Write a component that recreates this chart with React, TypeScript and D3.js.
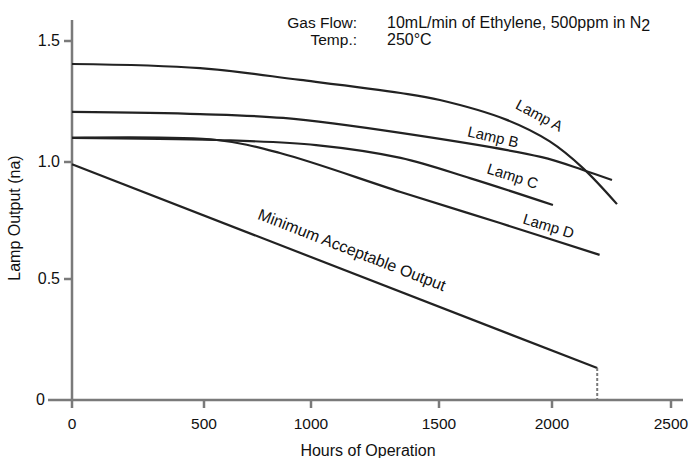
import React from 'react'
import { scaleLinear, line, curveCatmullRom } from 'd3'

// hours on x, lamp output (na) on y
const xTicks = [0, 500, 1000, 1500, 2000, 2500]
const yTicks = [0, 0.5, 1.0, 1.5]
const yTickLabels = ['0', '0.5', '1.0', '1.5']

const lampA: [number, number][] = [[0, 1.405], [485, 1.388], [950, 1.339], [1350, 1.285], [1504, 1.256], [1800, 1.174], [1990, 1.085], [2130, 0.974], [2273, 0.82]]
const lampB: [number, number][] = [[0, 1.207], [485, 1.198], [870, 1.182], [1350, 1.12], [1950, 1.021], [2130, 0.966], [2252, 0.923]]
const lampC: [number, number][] = [[0, 1.10], [560, 1.091], [1020, 1.07], [1350, 1.017], [1640, 0.93], [2004, 0.816]]
const lampD: [number, number][] = [[0, 1.10], [560, 1.091], [855, 1.037], [1350, 0.872], [1770, 0.739], [2200, 0.603]]
const minOutput: [number, number][] = [[0, 0.99], [2190, 0.132]]
const cutoffHours = 2190

const font = 'Liberation Sans, Arial, sans-serif'
const axisColor = '#7a7a7a'
const lineColor = '#222'
const textColor = '#111'

export default function App() {
  // the scanned original has uneven tick spacing, so the scales are piecewise
  const x = scaleLinear().domain(xTicks).range([72, 204, 311, 439, 552, 671])
  const y = scaleLinear().domain(yTicks).range([400, 279, 162, 41])

  const path = line<[number, number]>()
    .x(d => x(d[0]))
    .y(d => y(d[1]))
    .curve(curveCatmullRom.alpha(0.5))

  const series = [lampA, lampB, lampC, lampD, minOutput]

  return (
    <svg width={690} height={458} style={{ position: 'absolute', left: 0, top: 0, background: '#fff' }} fontFamily={font}>
      {/* axes */}
      <line x1={48} x2={683} y1={y(0)} y2={y(0)} stroke={axisColor} strokeWidth={2.5} />
      <line x1={x(0)} x2={x(0)} y1={20} y2={408} stroke={axisColor} strokeWidth={2.5} />
      {xTicks.slice(1).map(t => (
        <line key={t} x1={x(t)} x2={x(t)} y1={y(0)} y2={y(0) + 8} stroke={axisColor} strokeWidth={2.5} />
      ))}
      {xTicks.map(t => (
        <text key={t} x={x(t)} y={429} textAnchor="middle" fontSize={15.5} fill={textColor}>{t}</text>
      ))}
      {yTicks.slice(1).map(t => (
        <line key={t} x1={x(0) - 8} x2={x(0)} y1={y(t)} y2={y(t)} stroke={axisColor} strokeWidth={2.5} />
      ))}
      {yTicks.map((t, i) => (
        <text key={t} x={t === 0 ? 45 : 60} y={y(t) + 5} textAnchor="end" fontSize={16} fill={textColor}>{yTickLabels[i]}</text>
      ))}
      <text x={368} y={456} textAnchor="middle" fontSize={16} fill={textColor}>Hours of Operation</text>
      <text transform="translate(20,218) rotate(-90)" textAnchor="middle" fontSize={16} fill={textColor}>Lamp Output (na)</text>

      {/* curves */}
      {series.map((s, i) => (
        <path key={i} d={path(s) || ''} fill="none" stroke={lineColor} strokeWidth={2.2} />
      ))}
      <line x1={x(cutoffHours)} x2={x(cutoffHours)} y1={y(minOutput[1][1])} y2={y(0)} stroke={axisColor} strokeWidth={2} strokeDasharray="3 2" />

      {/* curve labels */}
      <text transform="translate(537,120) rotate(28)" textAnchor="middle" fontSize={15} fill={textColor}>Lamp A</text>
      <text transform="translate(492,142) rotate(13)" textAnchor="middle" fontSize={15} fill={textColor}>Lamp B</text>
      <text transform="translate(511,181) rotate(18)" textAnchor="middle" fontSize={15} fill={textColor}>Lamp C</text>
      <text transform="translate(547,231) rotate(17)" textAnchor="middle" fontSize={15} fill={textColor}>Lamp D</text>
      <text transform="translate(350,255) rotate(21.3)" textAnchor="middle" fontSize={16} fill={textColor}>Minimum Acceptable Output</text>

      {/* conditions */}
      <text x={357} y={28} textAnchor="end" fontSize={15.5} fill={textColor}>Gas Flow:</text>
      <text x={357} y={45} textAnchor="end" fontSize={15.5} fill={textColor}>Temp.:</text>
      <text x={387} y={28} fontSize={16} fill={textColor}>10mL/min of Ethylene, 500ppm in N<tspan dy={3}>2</tspan></text>
      <text x={387} y={45} fontSize={16} fill={textColor}>250°C</text>
    </svg>
  )
}
